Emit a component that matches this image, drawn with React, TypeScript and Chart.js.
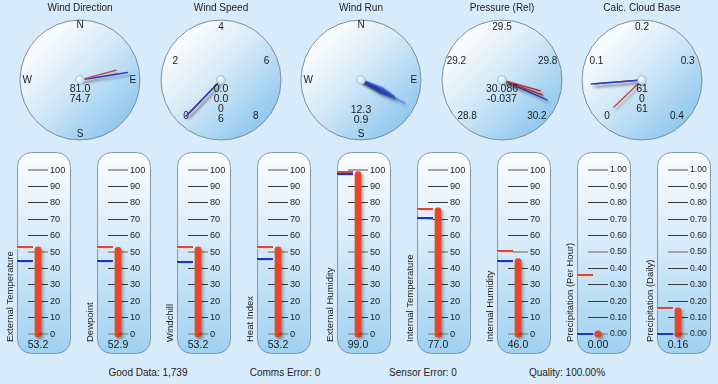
import React, { useEffect, useRef } from "react";
import { Chart, registerables } from "chart.js";

Chart.register(...registerables);

const FONT = "'Liberation Sans', Arial, Helvetica, sans-serif";
const BG = "#d8ebfa";
const TEXT = "#1b1b1b";
const RED = "#cc3a34";
const BLUE = "#2342d6";
const MERCURY = "#e5462c";

// ---------- Dial data ----------
const dialTitles = ["Wind Direction", "Wind Speed", "Wind Run", "Pressure (Rel)", "Calc. Cloud Base"];
const dialCentersX = [80, 221, 361, 502, 642];

const compassLabels = ["N", "E", "S", "W"];
const compassBearings = [0, 90, 180, 270];

const windDirCurrent = 81.0;
const windDirAverage = 74.7;
const windDirReadouts = ["81.0", "74.7"];

const windSpeedTicks = [0, 2, 4, 6, 8];
const windSpeedCurrent = 0.0;
const windSpeedGust = 0.0;
const windSpeedReadouts = ["0.0", "0.0", "0", "6"];

const windRunBearings = [110, 112, 114, 115, 116, 117, 118, 119, 120, 122, 124];
const windRunLengths = [0.4, 0.46, 0.52, 0.56, 0.6, 0.62, 0.82, 0.64, 0.56, 0.48, 0.4];
const windRunReadouts = ["12.3", "0.9"];

const pressureTickValues = [28.8, 29.15, 29.5, 29.85, 30.2];
const pressureTickLabels = ["28.8", "29.2", "29.5", "29.8", "30.2"];
const pressureCurrent = 30.086;
const pressureLow = 30.045;
const pressureHigh = 30.068;
const pressureReadouts = ["30.086", "-0.037"];

const cloudTickValues = [0, 0.1, 0.2, 0.3, 0.4];
const cloudTickLabels = ["0", "0.1", "0.2", "0.3", "0.4"];
const cloudCurrent = 0.061;
const cloudHigh = 0.061;
const cloudLow = 0.003;
const cloudReadouts = ["61", "0", "61"];

// ---------- Thermometer data ----------
const thermoNames = [
  "External Temperature",
  "Dewpoint",
  "Windchill",
  "Heat Index",
  "External Humidity",
  "Internal Temperature",
  "Internal Humidity",
  "Precipitation (Per Hour)",
  "Precipitation (Daily)",
];
const thermoValues = [53.2, 52.9, 53.2, 53.2, 99.0, 77.0, 46.0, 0.0, 0.16];
const thermoValueLabels = ["53.2", "52.9", "53.2", "53.2", "99.0", "77.0", "46.0", "0.00", "0.16"];
const thermoHighs = [53.2, 53.2, 53.2, 53.2, 98.6, 76.5, 50.5, 0.36, 0.16];
const thermoLows = [44.8, 44.8, 44.0, 45.5, 97.6, 70.6, 44.6, 0.0, 0.0];
const thermoMax = [100, 100, 100, 100, 100, 100, 100, 1, 1];

// ---------- Footer ----------
const footerLabels = ["Good Data: 1,739", "Comms Error: 0", "Sensor Error: 0", "Quality: 100.00%"];
const footerCentersX = [148, 285, 423, 567];

const rad = (d: number) => (d * Math.PI) / 180;

type Needle = { value: number; len: number; color: string; width: number };
type DialCfg = {
  title: string;
  cx: number;
  ticks: { value: number; label: string }[];
  compass: boolean;
  angle: (v: number) => number;
  needles: Needle[];
  readouts: string[];
  readoutY: number;
};

const compassTicks = compassLabels.map((l, i) => ({ value: compassBearings[i], label: l }));

const dials: DialCfg[] = [
  {
    title: dialTitles[0],
    cx: dialCentersX[0],
    ticks: compassTicks,
    compass: true,
    angle: (v) => v,
    needles: [
      { value: windDirAverage, len: 0.62, color: "#d0504c", width: 1.5 },
      { value: windDirCurrent, len: 0.8, color: BLUE, width: 1.6 },
    ],
    readouts: windDirReadouts,
    readoutY: 9.5,
  },
  {
    title: dialTitles[1],
    cx: dialCentersX[1],
    ticks: windSpeedTicks.map((v) => ({ value: v, label: String(v) })),
    compass: false,
    angle: (v) => (v - 4) * 34,
    needles: [
      { value: windSpeedCurrent, len: 0.84, color: BLUE, width: 1.5 },
      { value: windSpeedGust, len: 0.79, color: "#b8343a", width: 1.6 },
    ],
    readouts: windSpeedReadouts,
    readoutY: 9.5,
  },
  {
    title: dialTitles[2],
    cx: dialCentersX[2],
    ticks: compassTicks,
    compass: true,
    angle: (v) => v,
    needles: windRunBearings.map((b, i) => ({
      value: b,
      len: windRunLengths[i],
      color: "rgba(35,70,235,0.38)",
      width: 2.4,
    })),
    readouts: windRunReadouts,
    readoutY: 30,
  },
  {
    title: dialTitles[3],
    cx: dialCentersX[3],
    ticks: pressureTickValues.map((v, i) => ({ value: v, label: pressureTickLabels[i] })),
    compass: false,
    angle: (v) => ((v - 29.5) / 0.35) * 68,
    needles: [
      { value: pressureLow, len: 0.66, color: "#b8343a", width: 1.5 },
      { value: pressureHigh, len: 0.72, color: "#b8343a", width: 1.5 },
      { value: pressureCurrent, len: 0.82, color: BLUE, width: 1.5 },
    ],
    readouts: pressureReadouts,
    readoutY: 9.5,
  },
  {
    title: dialTitles[4],
    cx: dialCentersX[4],
    ticks: cloudTickValues.map((v, i) => ({ value: v, label: cloudTickLabels[i] })),
    compass: false,
    angle: (v) => (v - 0.2) * 680,
    needles: [
      { value: cloudCurrent, len: 0.85, color: BLUE, width: 1.6 },
      { value: cloudHigh, len: 0.78, color: "#c0393c", width: 1.6 },
      { value: cloudLow, len: 0.65, color: "#d0403c", width: 1.3 },
    ],
    readouts: cloudReadouts,
    readoutY: 9.5,
  },
];

function DialChart({ cfg }: { cfg: DialCfg }) {
  const ref = useRef<HTMLCanvasElement>(null);
  useEffect(() => {
    const datasets = cfg.needles.map((n) => {
      const a = rad(cfg.angle(n.value));
      return {
        data: [
          { x: 0, y: 0 },
          { x: n.len * Math.sin(a), y: n.len * Math.cos(a) },
        ],
        showLine: true,
        borderColor: n.color,
        borderWidth: n.width,
        borderCapStyle: "round" as const,
        pointRadius: 0,
        clip: false as const,
      };
    });

    const plugin = {
      id: "dialFace",
      beforeDraw(chart: any) {
        const ctx = chart.ctx as CanvasRenderingContext2D;
        const xs = chart.scales.x;
        const ys = chart.scales.y;
        const cx = xs.getPixelForValue(0);
        const cy = ys.getPixelForValue(0);
        const R = xs.getPixelForValue(1) - cx;
        ctx.save();
        // title
        ctx.fillStyle = TEXT;
        ctx.font = `10px ${FONT}`;
        ctx.textAlign = "center";
        ctx.textBaseline = "middle";
        ctx.fillText(cfg.title, cx, 8);
        // disc
        const g = ctx.createLinearGradient(cx - R * 0.75, cy - R * 0.75, cx + R * 0.7, cy + R * 0.75);
        g.addColorStop(0, "#ffffff");
        g.addColorStop(0.45, "#d6eaf8");
        g.addColorStop(1, "#8fc8ee");
        ctx.beginPath();
        ctx.arc(cx, cy, R, 0, Math.PI * 2);
        ctx.fillStyle = g;
        ctx.fill();
        ctx.lineWidth = 1;
        ctx.strokeStyle = "#7d8c9a";
        ctx.stroke();
        // labels
        ctx.fillStyle = TEXT;
        ctx.font = `10px ${FONT}`;
        for (const t of cfg.ticks) {
          const d = cfg.angle(t.value);
          const s = Math.abs(Math.sin(rad(d)));
          const r = cfg.compass ? 0.91 - 0.03 * s : 0.885 - 0.07 * s;
          const px = xs.getPixelForValue(r * Math.sin(rad(d)));
          const py = ys.getPixelForValue(r * Math.cos(rad(d)));
          ctx.fillText(t.label, px, py);
        }
        ctx.restore();
      },
      beforeDatasetsDraw(chart: any) {
        const ctx = chart.ctx as CanvasRenderingContext2D;
        ctx.save();
        ctx.shadowColor = "rgba(40,40,40,0.35)";
        ctx.shadowBlur = 2.5;
        ctx.shadowOffsetX = 2;
        ctx.shadowOffsetY = 3;
      },
      afterDatasetsDraw(chart: any) {
        const ctx = chart.ctx as CanvasRenderingContext2D;
        ctx.restore();
        const xs = chart.scales.x;
        const ys = chart.scales.y;
        const cx = xs.getPixelForValue(0);
        const cy = ys.getPixelForValue(0);
        ctx.save();
        // knob
        const kg = ctx.createRadialGradient(cx - 1.5, cy - 1.5, 0.5, cx, cy, 5);
        kg.addColorStop(0, "#ffffff");
        kg.addColorStop(1, "#a9d2ee");
        ctx.beginPath();
        ctx.arc(cx, cy, 4.5, 0, Math.PI * 2);
        ctx.fillStyle = kg;
        ctx.fill();
        ctx.strokeStyle = "rgba(140,170,195,0.8)";
        ctx.lineWidth = 0.6;
        ctx.stroke();
        // readouts
        ctx.fillStyle = TEXT;
        ctx.font = `10.5px ${FONT}`;
        ctx.textAlign = "center";
        ctx.textBaseline = "middle";
        cfg.readouts.forEach((s, i) => {
          ctx.fillText(s, cx, cy + cfg.readoutY + i * 9.8);
        });
        ctx.restore();
      },
    };

    const chart = new Chart(ref.current as HTMLCanvasElement, {
      type: "scatter",
      data: { datasets: datasets as any },
      options: {
        animation: false,
        responsive: false,
        events: [],
        layout: { padding: { left: 10, right: 10, top: 20, bottom: 5 } },
        scales: {
          x: { type: "linear", min: -1, max: 1, display: false },
          y: { type: "linear", min: -1, max: 1, display: false },
        },
        plugins: { legend: { display: false }, tooltip: { enabled: false } },
      },
      plugins: [plugin],
    });
    return () => chart.destroy();
  }, [cfg]);
  return (
    <canvas
      ref={ref}
      width={140}
      height={145}
      style={{ position: "absolute", left: cfg.cx - 70, top: 0, width: 140, height: 145 }}
    />
  );
}

function ThermoChart({ index }: { index: number }) {
  const ref = useRef<HTMLCanvasElement>(null);
  useEffect(() => {
    const max = thermoMax[index];
    const decimals = max < 10;
    const plugin = {
      id: "thermoFace",
      beforeDraw(chart: any) {
        const ctx = chart.ctx as CanvasRenderingContext2D;
        const a = chart.chartArea;
        const left = a.left - 11 + 0.5;
        const right = left + 53;
        const top = a.top - 18 + 0.5;
        const bottom = a.bottom + 19 + 0.5;
        const r = 14;
        ctx.save();
        const g = ctx.createLinearGradient(0, top, 0, bottom);
        g.addColorStop(0, "#fbfcff");
        g.addColorStop(0.5, "#d2e9f8");
        g.addColorStop(1, "#9fd1f1");
        ctx.beginPath();
        ctx.moveTo(left + r, top);
        ctx.arcTo(right, top, right, bottom, r);
        ctx.arcTo(right, bottom, left, bottom, r);
        ctx.arcTo(left, bottom, left, top, r);
        ctx.arcTo(left, top, right, top, r);
        ctx.closePath();
        ctx.fillStyle = g;
        ctx.fill();
        ctx.strokeStyle = "#8495a6";
        ctx.lineWidth = 1;
        ctx.stroke();
        ctx.restore();
      },
      beforeDatasetsDraw(chart: any) {
        const ctx = chart.ctx as CanvasRenderingContext2D;
        ctx.save();
        ctx.shadowColor = "rgba(40,40,40,0.35)";
        ctx.shadowBlur = 2.5;
        ctx.shadowOffsetX = 2;
        ctx.shadowOffsetY = 2;
      },
      afterDatasetsDraw(chart: any) {
        const ctx = chart.ctx as CanvasRenderingContext2D;
        ctx.restore();
        const a = chart.chartArea;
        const ys = chart.scales.y;
        const x0 = a.left - 11;
        ctx.save();
        const marker = (v: number, color: string, light: string) => {
          const y = Math.round(ys.getPixelForValue(v));
          ctx.fillStyle = color;
          ctx.fillRect(x0, y - 1, 16, 2);
          ctx.fillStyle = light;
          ctx.fillRect(x0, y + 1, 16, 1);
        };
        marker(thermoHighs[index], "#e0443a", "rgba(255,215,210,0.9)");
        marker(thermoLows[index], "#1836c8", "rgba(180,200,255,0.8)");
        // value readout
        ctx.fillStyle = TEXT;
        ctx.font = `10.5px ${FONT}`;
        ctx.textAlign = "center";
        ctx.textBaseline = "middle";
        ctx.fillText(thermoValueLabels[index], (a.left + a.right) / 2, a.bottom + 11);
        // rotated name
        ctx.translate(x0 - 7, a.bottom + 8);
        ctx.rotate(-Math.PI / 2);
        ctx.font = `9.5px ${FONT}`;
        ctx.textAlign = "left";
        ctx.fillText(thermoNames[index], 0, 0);
        ctx.restore();
      },
    };
    const isMajor = (v: number) => {
      const q = (v / max) * 2;
      return Math.abs(q - Math.round(q)) < 1e-6;
    };
    const chart = new Chart(ref.current as HTMLCanvasElement, {
      type: "bar",
      data: {
        labels: [""],
        datasets: [
          {
            type: "bar",
            data: [thermoValues[index]],
            backgroundColor: MERCURY,
            barThickness: 6,
            borderRadius: 3,
            borderSkipped: false,
            clip: false,
          } as any,
          {
            type: "line",
            data: [0],
            showLine: false,
            pointRadius: 3.5,
            pointBackgroundColor: MERCURY,
            pointBorderWidth: 0,
            clip: false,
          } as any,
        ],
      },
      options: {
        animation: false,
        responsive: false,
        events: [],
        layout: { padding: { left: 28, right: 0, top: 25, bottom: 26 } },
        scales: {
          x: { display: false },
          y: {
            position: "right",
            min: 0,
            max,
            afterFit: (s: any) => {
              s.width = 32;
            },
            border: { display: false },
            grid: {
              drawTicks: false,
              color: (c: any) => (isMajor(c.tick.value) ? "#a3a3a3" : "#3a3a3a"),
              lineWidth: (c: any) => (isMajor(c.tick.value) ? 2 : 1),
            },
            ticks: {
              stepSize: max / 10,
              padding: 2,
              color: TEXT,
              font: { family: FONT, size: decimals ? 8.6 : 9.2 },
              callback: (v: any) => (decimals ? Number(v).toFixed(2) : String(Math.round(Number(v)))),
            },
          },
        },
        plugins: { legend: { display: false }, tooltip: { enabled: false } },
      },
      plugins: [plugin],
    });
    return () => chart.destroy();
  }, [index]);
  return (
    <canvas
      ref={ref}
      width={80}
      height={215}
      style={{ position: "absolute", left: index * 80, top: 145, width: 80, height: 215 }}
    />
  );
}

export default function App() {
  useEffect(() => {
    document.body.style.margin = "0";
    document.body.style.background = BG;
  }, []);
  return (
    <div
      style={{
        position: "fixed",
        left: 0,
        top: 0,
        width: 718,
        height: 384,
        background: BG,
        overflow: "hidden",
        fontFamily: FONT,
      }}
    >
      {dials.map((d, i) => (
        <DialChart key={"d" + i} cfg={d} />
      ))}
      {thermoNames.map((_, i) => (
        <ThermoChart key={"t" + i} index={i} />
      ))}
      {footerLabels.map((t, i) => (
        <div
          key={"f" + i}
          style={{
            position: "absolute",
            left: footerCentersX[i] - 80,
            width: 160,
            top: 367,
            fontSize: 10,
            lineHeight: "12px",
            textAlign: "center",
            color: TEXT,
          }}
        >
          {t}
        </div>
      ))}
    </div>
  );
}
